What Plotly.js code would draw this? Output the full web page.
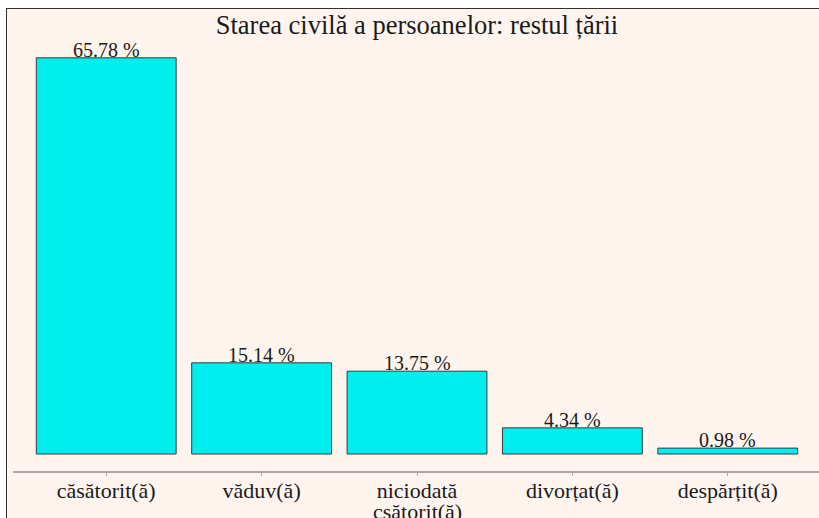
<!DOCTYPE html>
<html>
<head>
<meta charset="utf-8">
<script src="https://cdn.plot.ly/plotly-3.0.1.min.js"></script>
<style>
  html, body { margin: 0; padding: 0; background: #ffffff; overflow: hidden; width: 819px; height: 518px; }
  #frame { position: absolute; left: 6px; top: 8px; border-left: 1.5px solid #333; border-top: 1.5px solid #333; }
  #chart { width: 814px; height: 512px; }
</style>
</head>
<body>
<div id="frame"><div id="chart"></div></div>
<script>
const categories = ["căsătorit(ă)", "văduv(ă)", "niciodată\ncsătorit(ă)", "divorțat(ă)", "despărțit(ă)"];
const percentages = [65.78, 15.14, 13.75, 4.34, 0.98];
const valueLabels = ["65.78 %", "15.14 %", "13.75 %", "4.34 %", "0.98 %"];
const chartTitle = "Starea civilă a persoanelor: restul țării";

const FONT = "'Liberation Serif', 'Times New Roman', serif";

const trace = {
  type: "bar",
  x: categories,
  y: percentages,
  marker: { color: "#00eeee", line: { color: "#3a3a3a", width: 1 } },
  hoverinfo: "none"
};

const annotations = categories.map((c, i) => ({
  x: c, y: percentages[i], xref: "x", yref: "y",
  text: valueLabels[i], showarrow: false,
  yanchor: "bottom", yshift: -5,
  font: { family: FONT, size: 20, color: "#1a1a1a" }
}));

// first line of each category goes in the tick label; wrapped lines follow, tightly spaced
const tickText = categories.map(c => c.split("\n")[0]);
categories.forEach(c => {
  c.split("\n").slice(1).forEach((line, k) => {
    annotations.push({
      x: c, xref: "x", y: 0, yref: "paper",
      text: line, showarrow: false,
      yanchor: "top", yshift: -26 - 21 * k,
      font: { family: FONT, size: 22, color: "#1a1a1a" }
    });
  });
});

const layout = {
  width: 814, height: 512,
  margin: { l: 6, r: 0, t: 29, b: 50 },
  paper_bgcolor: "#fff5ee",
  plot_bgcolor: "#fff5ee",
  bargap: 0.1,
  showlegend: false,
  title: {
    text: chartTitle,
    font: { family: FONT, size: 26.5, color: "#1a1a1a" },
    x: 0.5, xref: "paper", xanchor: "center",
    y: 0.969, yref: "container", yanchor: "middle"
  },
  xaxis: {
    type: "category",
    range: [-0.6, 4.6],
    tickmode: "array", tickvals: categories, ticktext: tickText,
    showline: true, linecolor: "#b0aaa6", linewidth: 1.5,
    ticks: "outside", ticklen: 3, tickcolor: "#b0aaa6", tickwidth: 1,
    ticklabelstandoff: -4,
    showgrid: false, zeroline: false,
    tickfont: { family: FONT, size: 22, color: "#1a1a1a" },
    fixedrange: true
  },
  yaxis: {
    range: [-2.82, 69.07],
    visible: false,
    showgrid: false, zeroline: false,
    fixedrange: true
  },
  annotations: annotations
};

Plotly.newPlot("chart", [trace], layout, { displayModeBar: false, staticPlot: true });
</script>
</body>
</html>
